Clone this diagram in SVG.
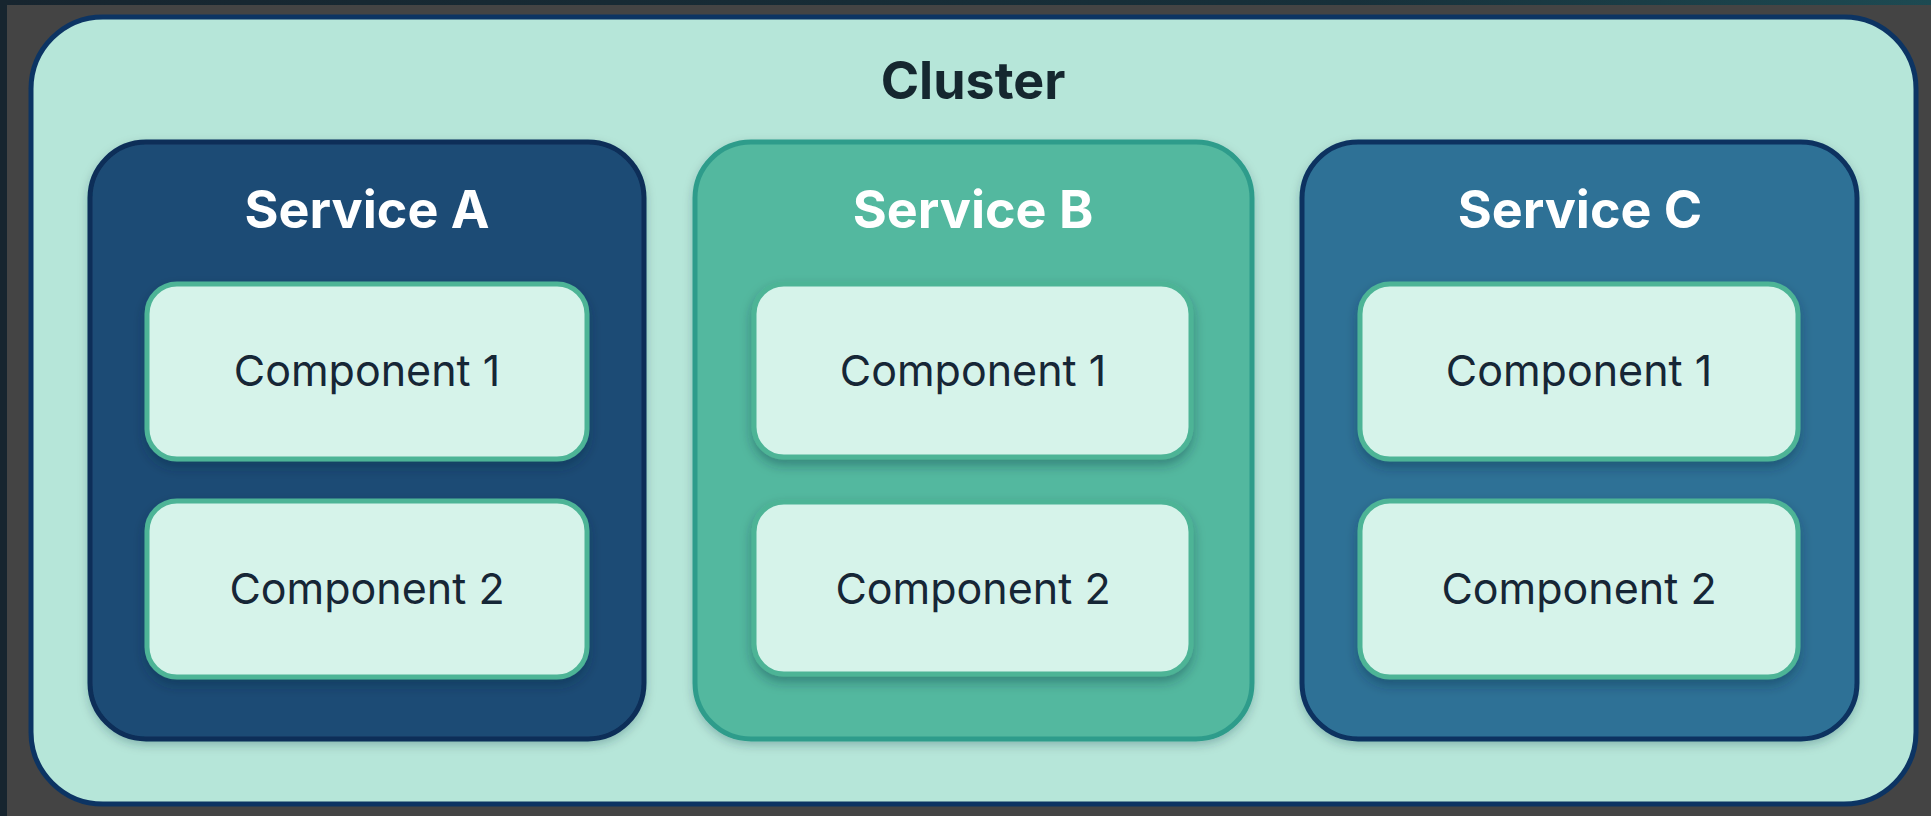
<svg xmlns="http://www.w3.org/2000/svg" width="1931" height="816" viewBox="0 0 1931 816">
  <defs>
    <filter id="shadow" x="-10%" y="-10%" width="120%" height="130%">
      <feDropShadow dx="0" dy="6" stdDeviation="6" flood-color="#0a2a3a" flood-opacity="0.35"/>
    </filter>
    <filter id="shadowS" x="-10%" y="-10%" width="120%" height="130%">
      <feDropShadow dx="0" dy="4" stdDeviation="5" flood-color="#0a2a3a" flood-opacity="0.25"/>
    </filter>
    <linearGradient id="topbar" x1="0" y1="0" x2="1" y2="0">
      <stop offset="0" stop-color="#17252f"/>
      <stop offset="0.7" stop-color="#17303a"/>
      <stop offset="1" stop-color="#1d4a52"/>
    </linearGradient>
  </defs>
  <style>
    .cluster { fill: #b6e6d9; stroke: #0c3463; stroke-width: 5; }
    .svc { stroke-width: 5; filter: url(#shadowS); }
    .svcA { fill: #1f4b74; stroke: #0a2d58; }
    .svcB { fill: #53b89f; stroke: #2f9c8b; }
    .svcC { fill: #2f7196; stroke: #0a3260; }
    .comp { fill: #d6f3ea; stroke: #4db496; stroke-width: 5; filter: url(#shadow); }
    .title { font-family: Inter, "Liberation Sans", sans-serif; font-weight: 700; fill: #15272f; font-size: 52px; text-anchor: middle; }
    .svcLabel { font-family: Inter, "Liberation Sans", sans-serif; font-weight: 700; fill: #ffffff; font-size: 52px; text-anchor: middle; }
    .compLabel { font-family: Inter, "Liberation Sans", sans-serif; font-weight: 400; fill: #162636; font-size: 43px; text-anchor: middle; }
  </style>

  <rect x="0" y="0" width="1931" height="816" fill="#444444"/>
  <rect x="0" y="0" width="1931" height="5" fill="url(#topbar)"/>
  <rect x="0" y="0" width="7" height="816" fill="#17252f"/>

  <g id="cluster">
    <rect class="cluster" x="31" y="17" width="1885" height="787" rx="72" ry="72"/>
    <text class="title" x="973" y="99">Cluster</text>
  </g>

  <g id="serviceA">
    <rect class="svc svcA" x="90" y="142" width="554" height="597" rx="56" ry="56"/>
    <text class="svcLabel" x="367" y="228">Service A</text>
  </g>
  <g id="serviceB">
    <rect class="svc svcB" x="695" y="142" width="557" height="597" rx="56" ry="56"/>
    <text class="svcLabel" x="973" y="228">Service B</text>
  </g>
  <g id="serviceC">
    <rect class="svc svcC" x="1302" y="142" width="555" height="597" rx="56" ry="56"/>
    <text class="svcLabel" x="1580" y="228">Service C</text>
  </g>

  <g id="compA1">
    <rect class="comp" x="147" y="284" width="440" height="175" rx="30" ry="30"/>
    <text class="compLabel" x="367" y="386">Component 1</text>
  </g>
  <g id="compA2">
    <rect class="comp" x="147" y="501" width="440" height="176" rx="30" ry="30"/>
    <text class="compLabel" x="367" y="604">Component 2</text>
  </g>
  <g id="compB1">
    <rect class="comp" x="754" y="284" width="437" height="173" rx="30" ry="30"/>
    <text class="compLabel" x="973" y="386">Component 1</text>
  </g>
  <g id="compB2">
    <rect class="comp" x="754" y="502" width="437" height="172" rx="30" ry="30"/>
    <text class="compLabel" x="973" y="604">Component 2</text>
  </g>
  <g id="compC1">
    <rect class="comp" x="1360" y="284" width="438" height="175" rx="30" ry="30"/>
    <text class="compLabel" x="1579" y="386">Component 1</text>
  </g>
  <g id="compC2">
    <rect class="comp" x="1360" y="501" width="438" height="176" rx="30" ry="30"/>
    <text class="compLabel" x="1579" y="604">Component 2</text>
  </g>

  <g id="connectors"></g>
</svg>
